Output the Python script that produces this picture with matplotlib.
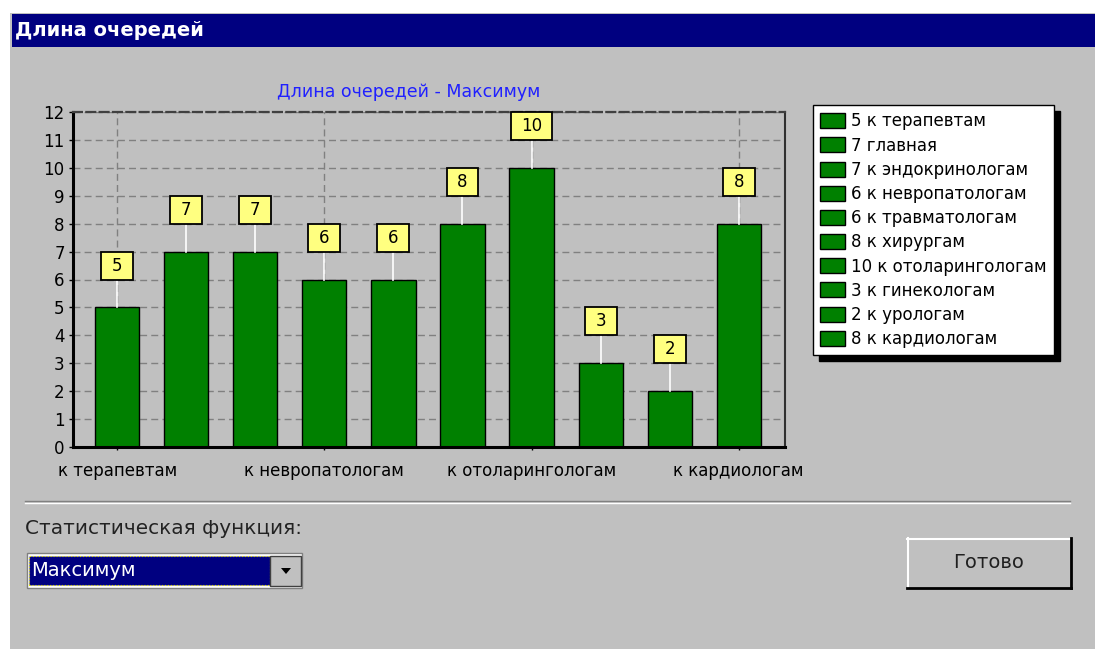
import matplotlib
matplotlib.use('Agg')
import matplotlib.pyplot as plt
from matplotlib.patches import Rectangle, Polygon
from matplotlib.lines import Line2D

W, H = 1095, 649

categories = ['к терапевтам', 'главная', 'к эндокринологам', 'к невропатологам',
              'к травматологам', 'к хирургам', 'к отоларингологам', 'к гинекологам',
              'к урологам', 'к кардиологам']
values = [5, 7, 7, 6, 6, 8, 10, 3, 2, 8]
shown_ticks = [0, 3, 6, 9]
y_ticks = list(range(0, 13))

window_title = 'Длина очередей'
chart_title = 'Длина очередей - Максимум'
stat_label = 'Статистическая функция:'
stat_choice = 'Максимум'
button_text = 'Готово'

GRAY = '#c0c0c0'
NAVY = '#000080'
GREEN = '#008000'
YELLOW = '#ffff80'

plt.rcParams['font.family'] = ['DejaVu Sans']

fig = plt.figure(figsize=(W / 100, H / 100), dpi=100)
fig.patch.set_facecolor('white')


def fx(x):
    return x / W


def fy(y):
    return 1 - y / H


def rect(x0, y0, x1, y1, **kw):
    kw.setdefault('zorder', -2)
    fig.add_artist(Rectangle((fx(x0), fy(y1)), fx(x1) - fx(x0), fy(y0) - fy(y1),
                             transform=fig.transFigure, **kw))


def line(xs, ys, **kw):
    kw.setdefault('zorder', -1)
    fig.add_artist(Line2D([fx(x) for x in xs], [fy(y) for y in ys],
                          transform=fig.transFigure, **kw))


# window background + title bar
rect(10, 13, W, H, facecolor=GRAY, edgecolor='none', zorder=-3)
rect(12, 14, W, 47, facecolor=NAVY, edgecolor='none')
fig.text(fx(15), fy(31), window_title, color='white', fontsize=14,
         fontweight='bold', va='center')

# chart
ax = fig.add_axes([fx(73), fy(447), fx(785) - fx(73), fy(112) - fy(447)])
ax.set_facecolor('none')
x = list(range(len(values)))
bars = ax.bar(x, values, width=0.64, color=GREEN, edgecolor='black',
              linewidth=1, zorder=2)

# value boxes on white stems
for i, v in enumerate(values):
    ax.plot([i, i], [v, v + 1], color='white', lw=1.2, zorder=3)
    w = 0.345 + 0.118 * len(str(v))
    ax.add_patch(Rectangle((i - w / 2, v + 1), w, 1.0, facecolor=YELLOW,
                           edgecolor='black', lw=1.3, zorder=4, clip_on=False))
    ax.text(i, v + 1.5, str(v), ha='center', va='center', fontsize=12, zorder=5)

ax.set_xlim(-0.64, 9.67)
ax.set_ylim(0, 12)
ax.set_yticks(y_ticks)
ax.set_xticks(shown_ticks)
ax.set_xticklabels([categories[i] for i in shown_ticks])
ax.tick_params(axis='y', length=3, width=1, pad=3, labelsize=12)
ax.tick_params(axis='x', length=2, width=1, pad=9, labelsize=12)
ax.grid(True, color='#808080', linestyle=(0, (5, 3)), lw=1)
ax.set_axisbelow(True)
ax.spines['left'].set_linewidth(2.2)
ax.spines['bottom'].set_linewidth(2.2)
ax.spines['top'].set_color('#404040')
ax.spines['top'].set_linestyle((0, (4, 2)))
ax.spines['top'].set_linewidth(1.6)
ax.spines['right'].set_color('#303030')
ax.spines['right'].set_linewidth(1.5)

fig.text(fx(409), fy(92), chart_title, color='#2020ff', fontsize=12.5,
         ha='center', va='center')

labels = [f'{v} {c}' for v, c in zip(values, categories)]
ax.legend(list(bars), labels, loc='upper left',
          bbox_to_anchor=(fx(813), fy(105)), bbox_transform=fig.transFigure,
          fontsize=12, fancybox=False, edgecolor='black', facecolor='white',
          framealpha=1, shadow={'ox': 4, 'oy': -4, 'color': 'black', 'alpha': 1},
          borderaxespad=0, borderpad=0.45, labelspacing=0.37, handlelength=1.5,
          handleheight=1.0, handletextpad=0.35)

# bottom controls
line([25, 1070], [501, 501], color='#808080', lw=1)
line([25, 1070], [502.5, 502.5], color='white', lw=1)
fig.text(fx(25), fy(528), stat_label, fontsize=14.4, color='#222222', va='center')

rect(27, 553, 302, 588, facecolor='white', edgecolor='#808080', lw=1)
rect(29, 556, 270, 585, facecolor=NAVY, edgecolor='#e0e000', lw=0.8,
     linestyle=':', zorder=-1)
rect(270, 556, 301, 586, facecolor=GRAY, edgecolor='#404040', lw=1, zorder=-1)
fig.add_artist(Polygon([(fx(281), fy(568)), (fx(291), fy(568)), (fx(286), fy(574))],
                       closed=True, facecolor='black', edgecolor='none',
                       transform=fig.transFigure))
fig.text(fx(31), fy(571), stat_choice, color='white', fontsize=14, va='center')

rect(907, 538, 1071, 588, facecolor=GRAY, edgecolor='none')
line([907, 1071], [538.5, 538.5], color='white', lw=1.5)
line([907.5, 907.5], [538, 588], color='white', lw=1.5)
line([907, 1071], [587.5, 587.5], color='black', lw=2)
line([1070.5, 1070.5], [538, 588], color='black', lw=2)
fig.text(fx(989), fy(563), button_text, fontsize=14, color='#202020',
         ha='center', va='center')

fig.savefig('out.png', dpi=100, facecolor=fig.get_facecolor())
